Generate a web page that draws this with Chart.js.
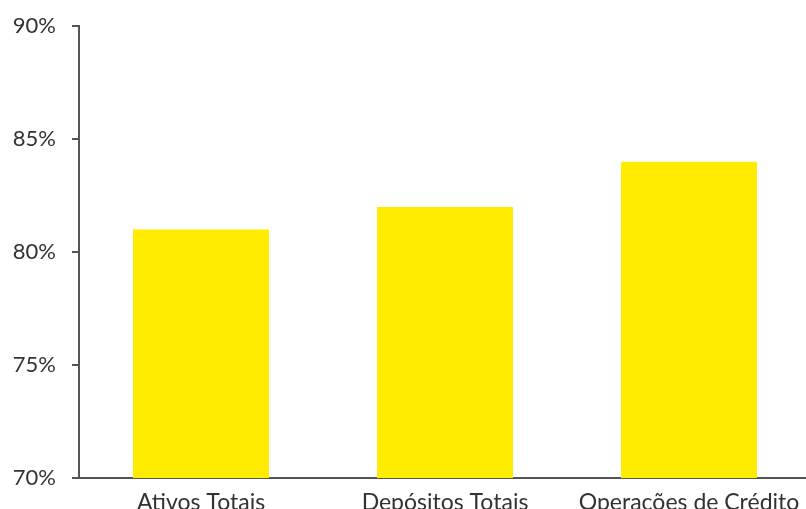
<!DOCTYPE html>
<html>
<head>
<meta charset="utf-8">
<script src="https://cdn.jsdelivr.net/npm/chart.js@4"></script>
<style>
html,body{margin:0;padding:0;background:#fff;overflow:hidden;width:806px;height:509px;}
#wrap{position:absolute;left:0;top:-3px;width:812px;height:522px;}
</style>
</head>
<body>
<div id="wrap"><canvas id="c" width="812" height="522"></canvas></div>
<script>
const categories = ["Ativos Totais", "Depósitos Totais", "Operações de Crédito"];
const values = [81, 82, 84];
const yMin = 70, yMax = 90, yStep = 5;

const FONT = "Lato, 'Open Sans', sans-serif";
new Chart(document.getElementById('c'), {
  type: 'bar',
  data: {
    labels: categories,
    datasets: [{
      data: values,
      backgroundColor: '#FFEC00',
      borderWidth: 0,
      categoryPercentage: 1,
      barPercentage: 0.557
    }]
  },
  options: {
    responsive: false,
    animation: false,
    devicePixelRatio: 1,
    layout: { padding: { top: 22, right: 1, left: 0, bottom: 0 } },
    plugins: { legend: { display: false }, tooltip: { enabled: false } },
    scales: {
      x: {
        grid: { display: false },
        border: { display: true, color: '#555', width: 2 },
        ticks: { color: '#333', font: { family: FONT, size: 23 }, padding: 3, maxRotation: 0, autoSkip: false },
        afterFit: s => { s.height = 522 - 481; }
      },
      y: {
        min: yMin, max: yMax,
        grid: { drawOnChartArea: false, drawTicks: true, tickLength: 7, color: '#555', lineWidth: 2 },
        border: { display: true, color: '#555', width: 2 },
        ticks: { stepSize: yStep, color: '#333', font: { family: FONT, size: 22 }, padding: 16,
                 callback: v => v + '%' },
        afterFit: s => { s.width = 79; }
      }
    }
  }
});
</script>
</body>
</html>
